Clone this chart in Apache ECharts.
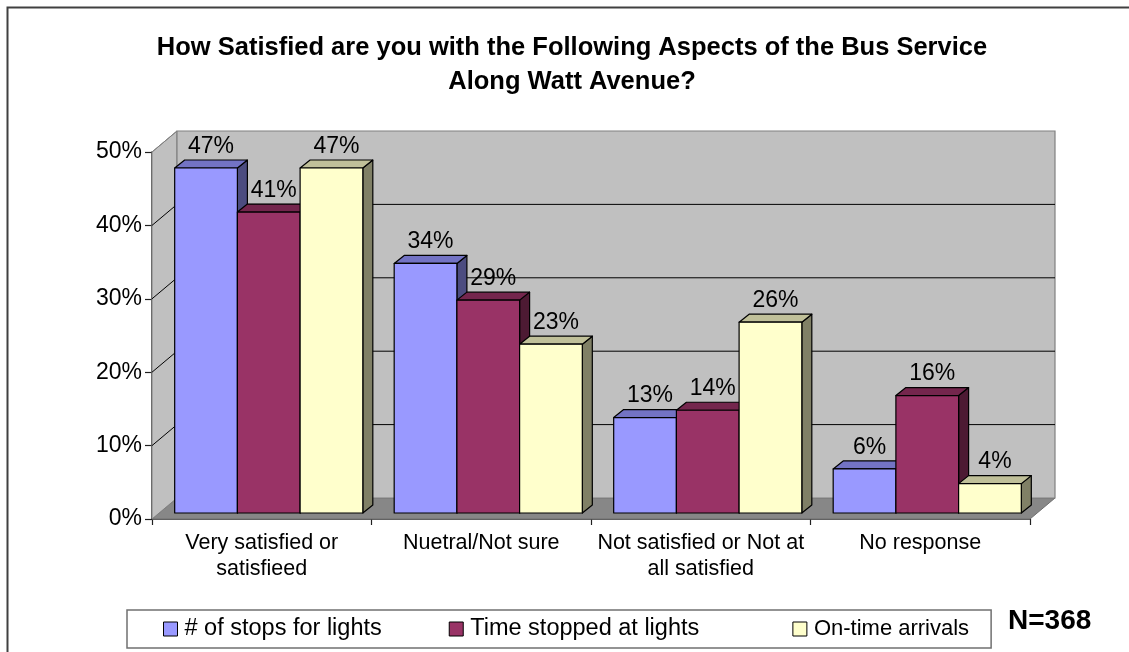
<!DOCTYPE html>
<html>
<head>
<meta charset="utf-8">
<title>Bus Service Satisfaction - Watt Avenue</title>
<script src="https://cdn.jsdelivr.net/npm/echarts@6/dist/echarts.min.js"></script>
<style>
  html, body { margin: 0; padding: 0; background: #ffffff; }
  #chart { width: 1129px; height: 652px; }
</style>
</head>
<body>
<div id="chart"></div>
<script>
// Survey responses, percent of respondents (N=368)
const categories = [
  'Very satisfied or\nsatisfieed',
  'Nuetral/Not sure',
  'Not satisfied or Not at\nall satisfied',
  'No response'
];
const seriesNames = ['# of stops for lights', 'Time stopped at lights', 'On-time arrivals'];
const stopsForLights = [47, 34, 13, 6];
const timeStoppedAtLights = [41, 29, 14, 16];
const onTimeArrivals = [47, 23, 26, 4];
const yTickValues = [0, 10, 20, 30, 40, 50];
const sampleLabel = 'N=368';

// face colours: front, top, side
const palettes = [
  ['#9999ff', '#7373c4', '#4c4c80'],
  ['#993366', '#74264d', '#4d1a33'],
  ['#ffffcc', '#c0c099', '#808066']
];

// oblique 3-D projection offsets (pixels)
const WALL_DX = 25, WALL_DY = -21;   // back wall relative to front plane
const BAR_FX = 7, BAR_FY = -6;       // bar front face relative to front plane
const BAR_DX = 10, BAR_DY = -8;      // bar depth
const BAR_FRACTION = 0.2857;         // one bar's share of a category band

const FONT = '"Liberation Sans", Arial, Helvetica, sans-serif';

const chart = echarts.init(document.getElementById('chart'), null, { renderer: 'canvas' });

function wallsRenderer(params, api) {
  const cs = params.coordSys;
  const L = cs.x, R = cs.x + cs.width;
  const y0 = api.coord([0, yTickValues[0]])[1];
  const yTop = api.coord([0, yTickValues[yTickValues.length - 1]])[1];
  const children = [];
  // floor
  children.push({
    type: 'polygon',
    shape: { points: [[L, y0], [R, y0], [R + WALL_DX, y0 + WALL_DY], [L + WALL_DX, y0 + WALL_DY]] },
    style: { fill: '#878787', stroke: '#6e6e6e', lineWidth: 1 }
  });
  // left side wall
  children.push({
    type: 'polygon',
    shape: { points: [[L, y0], [L, yTop], [L + WALL_DX, yTop + WALL_DY], [L + WALL_DX, y0 + WALL_DY]] },
    style: { fill: '#c0c0c0', stroke: '#808080', lineWidth: 1 }
  });
  // back wall
  children.push({
    type: 'rect',
    shape: { x: L + WALL_DX, y: yTop + WALL_DY, width: R - L, height: y0 - yTop },
    style: { fill: '#c0c0c0', stroke: '#808080', lineWidth: 1.2 }
  });
  // gridlines on back and side walls
  yTickValues.forEach(function (t, k) {
    if (k === 0) return;
    const y = api.coord([0, t])[1];
    const last = k === yTickValues.length - 1;
    children.push({
      type: 'line',
      shape: { x1: L, y1: y, x2: L + WALL_DX, y2: y + WALL_DY },
      style: { stroke: last ? '#808080' : '#000000', lineWidth: 1 }
    });
    if (!last) {
      children.push({
        type: 'line',
        shape: { x1: L + WALL_DX, y1: y + WALL_DY, x2: R + WALL_DX, y2: y + WALL_DY },
        style: { stroke: '#000000', lineWidth: 1 }
      });
    }
  });
  return { type: 'group', children: children };
}

function makeBarRenderer(seriesIndex) {
  const pal = palettes[seriesIndex];
  return function (params, api) {
    const i = api.value(0);
    const v = api.value(1);
    const base = api.coord([i, 0]);
    const top = api.coord([i, v]);
    const band = api.size([1, 0])[0];
    const w = band * BAR_FRACTION;
    const x0 = base[0] - 1.5 * w + seriesIndex * w + BAR_FX;
    const yb = base[1] + BAR_FY;
    const yt = top[1] + BAR_FY;
    const edge = { stroke: '#000000', lineWidth: 1.2, lineJoin: 'round' };
    return {
      type: 'group',
      children: [
        {
          type: 'polygon',
          shape: { points: [[x0 + w, yt], [x0 + w + BAR_DX, yt + BAR_DY], [x0 + w + BAR_DX, yb + BAR_DY], [x0 + w, yb]] },
          style: Object.assign({ fill: pal[2] }, edge)
        },
        {
          type: 'polygon',
          shape: { points: [[x0, yt], [x0 + w, yt], [x0 + w + BAR_DX, yt + BAR_DY], [x0 + BAR_DX, yt + BAR_DY]] },
          style: Object.assign({ fill: pal[1] }, edge)
        },
        {
          type: 'rect',
          shape: { x: x0, y: yt, width: w, height: yb - yt },
          style: Object.assign({ fill: pal[0] }, edge)
        },
        {
          type: 'text',
          style: {
            text: v + '%',
            x: x0 + w / 2 + BAR_DX / 2,
            y: yt + BAR_DY - 2,
            align: 'center',
            verticalAlign: 'bottom',
            font: '23px ' + FONT,
            fill: '#000000'
          }
        }
      ]
    };
  };
}

const valueSets = [stopsForLights, timeStoppedAtLights, onTimeArrivals];

const barSeries = valueSets.map(function (vals, s) {
  return {
    type: 'custom',
    name: seriesNames[s],
    coordinateSystem: 'cartesian2d',
    renderItem: makeBarRenderer(s),
    data: vals.map(function (v, i) { return [i, v]; }),
    encode: { x: 0, y: 1 },
    itemStyle: { color: palettes[s][0], borderColor: '#000000', borderWidth: 1 },
    z: 3 + s,
    silent: true
  };
});

const option = {
  backgroundColor: '#ffffff',
  animation: false,
  title: {
    text: 'How Satisfied are you with the Following Aspects of the Bus Service\nAlong Watt Avenue?',
    left: 567,
    textAlign: 'center',
    top: 26,
    textStyle: {
      fontFamily: FONT,
      fontSize: 25.5,
      fontWeight: 'bold',
      lineHeight: 34,
      color: '#000000'
    }
  },
  grid: {
    left: 152,
    right: 99,
    top: 152,
    bottom: 133,
    containLabel: false
  },
  xAxis: {
    type: 'category',
    data: categories,
    boundaryGap: true,
    axisLine: { show: true, lineStyle: { color: '#202020', width: 1.5 } },
    axisTick: { show: true, length: 6, lineStyle: { color: '#202020', width: 1.2 } },
    axisLabel: {
      fontFamily: FONT,
      fontSize: 21.5,
      lineHeight: 26,
      color: '#000000',
      margin: 11,
      interval: 0
    },
    splitLine: { show: false }
  },
  yAxis: {
    type: 'value',
    min: yTickValues[0],
    max: yTickValues[yTickValues.length - 1],
    interval: 10,
    axisLine: { show: true, lineStyle: { color: '#202020', width: 1.5 } },
    axisTick: { show: true, length: 7, lineStyle: { color: '#202020', width: 1.2 } },
    axisLabel: {
      fontFamily: FONT,
      fontSize: 23,
      color: '#000000',
      margin: 10,
      formatter: '{value}%'
    },
    splitLine: { show: false }
  },
  legend: {
    data: [
      { name: seriesNames[0] },
      { name: seriesNames[1] },
      { name: seriesNames[2], textStyle: { fontSize: 22 } }
    ],
    // widen the middle entry so the last one sits further right
    formatter: function (name) {
      return name === seriesNames[1] ? name + '    ' : name;
    },
    left: 127,
    top: 610,
    orient: 'horizontal',
    icon: 'rect',
    itemWidth: 14,
    itemHeight: 14,
    itemGap: 67,
    padding: [7, 22, 7, 36],
    backgroundColor: '#ffffff',
    borderColor: '#707070',
    borderWidth: 1.5,
    borderRadius: 0,
    itemStyle: { borderColor: '#000000', borderWidth: 1 },
    textStyle: {
      fontFamily: FONT,
      fontSize: 23.5,
      color: '#000000',
      padding: [0, 0, 0, 2]
    },
    selectedMode: false
  },
  graphic: [
    {
      type: 'rect',
      left: 5,
      top: 5,
      shape: { width: 1200, height: 700 },
      style: { fill: 'none', stroke: '#404040', lineWidth: 2 },
      silent: true,
      z: 100
    },
    {
      type: 'text',
      left: 1008,
      top: 607,
      style: {
        text: sampleLabel,
        font: 'bold 28px ' + FONT,
        fill: '#000000'
      },
      z: 100
    }
  ],
  series: [
    {
      type: 'custom',
      name: 'walls',
      coordinateSystem: 'cartesian2d',
      renderItem: wallsRenderer,
      data: [[0, 0]],
      encode: { x: 0, y: 1 },
      z: 1,
      silent: true
    }
  ].concat(barSeries)
};

chart.setOption(option);
</script>
</body>
</html>
